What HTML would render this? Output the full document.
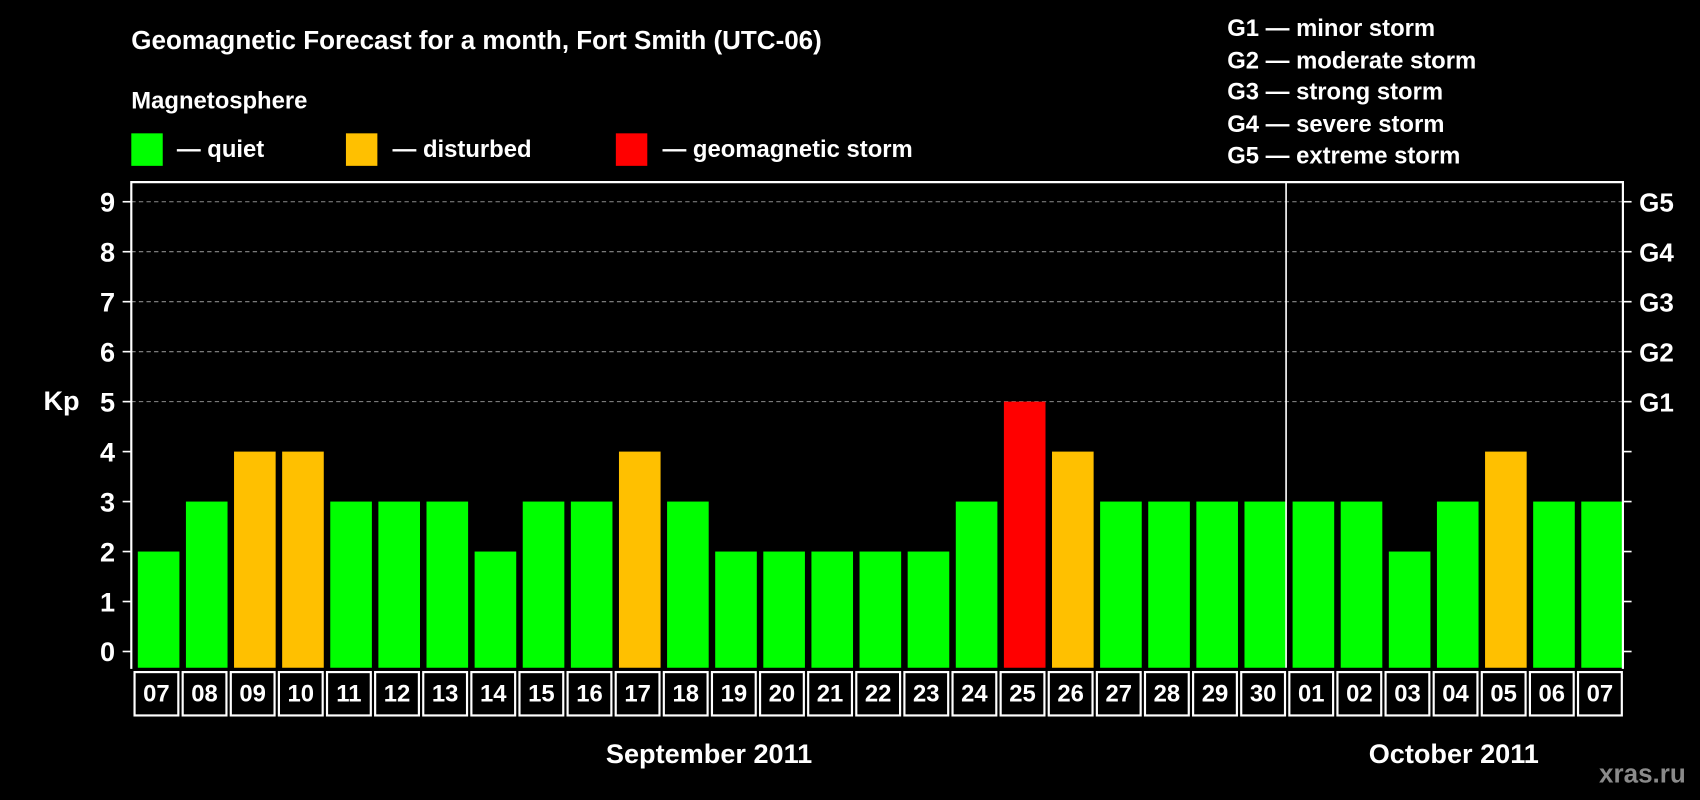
<!DOCTYPE html>
<html><head><meta charset="utf-8"><style>
html,body{margin:0;padding:0;background:#000;}
svg{display:block;font-family:"Liberation Sans",Arial,sans-serif;font-weight:bold;}
</style></head><body>
<svg id="chart" width="1700" height="800" viewBox="0 0 1568 738" xmlns="http://www.w3.org/2000/svg">
<rect width="1568" height="738" fill="#000"/>
<text x="121" y="45" fill="#fff" font-size="24">Geomagnetic Forecast for a month, Fort Smith (UTC-06)</text>
<text x="121" y="100" fill="#fff" font-size="22">Magnetosphere</text>
<rect x="121" y="123" width="29" height="30" fill="#00ff00"/>
<text x="163" y="145" fill="#fff" font-size="22">— quiet</text>
<rect x="319" y="123" width="29" height="30" fill="#ffc000"/>
<text x="362" y="145" fill="#fff" font-size="22">— disturbed</text>
<rect x="568" y="123" width="29" height="30" fill="#ff0000"/>
<text x="611" y="145" fill="#fff" font-size="22">— geomagnetic storm</text>
<g fill="#fff" font-size="22">
<text x="1132" y="33">G1 — minor storm</text>
<text x="1132" y="63">G2 — moderate storm</text>
<text x="1132" y="92">G3 — strong storm</text>
<text x="1132" y="122">G4 — severe storm</text>
<text x="1132" y="151">G5 — extreme storm</text>
</g>
<text x="40" y="378" fill="#fff" font-size="25">Kp</text>
<g id="grid"></g>
<g id="bars"></g>
<g id="axes"></g>
<text x="654" y="704" fill="#fff" font-size="25" text-anchor="middle">September 2011</text>
<text x="1341" y="704" fill="#fff" font-size="25" text-anchor="middle">October 2011</text>
<text x="1555" y="722" fill="#8a8a8a" font-size="24" text-anchor="end">xras.ru</text>
</svg>
<script>
const days = ["07","08","09","10","11","12","13","14","15","16","17","18","19","20","21","22","23","24","25","26","27","28","29","30","01","02","03","04","05","06","07"];
const kp = [2,3,4,4,3,3,3,2,3,3,4,3,2,2,2,2,2,3,5,4,3,3,3,3,3,2,3,4,3,3].length ? [2,3,4,4,3,3,3,2,3,3,4,3,2,2,2,2,2,3,5,4,3,3,3,3,3,3,2,3,4,3,3] : [];
const yTicks = [0,1,2,3,4,5,6,7,8,9];
const gLabels = ["G1","G2","G3","G4","G5"];
const gLevels = [5,6,7,8,9];
const monthBreak = 24;

const NS = "http://www.w3.org/2000/svg";
const X0 = 121, X1 = 1497, TOP = 168, BOT = 616;
const n = days.length, step = (X1 - X0) / n;
const y = v => 601 - v * 46.1;
const x = i => X0 + i * step;
function mk(tag, attrs, parent) {
  const e = document.createElementNS(NS, tag);
  for (const k in attrs) e.setAttribute(k, attrs[k]);
  parent.appendChild(e);
  return e;
}
const grid = document.getElementById('grid'), bars = document.getElementById('bars'), axes = document.getElementById('axes');
gLevels.forEach((v, i) => {
  const l = mk('line', {x1: X0, x2: X1, y1: y(v), y2: y(v), stroke: '#8c8c8c', 'stroke-width': 1, 'stroke-dasharray': '4,3'}, grid);
  
  
  const t = mk('text', {x: 1512, y: y(v) + 9, fill: '#fff', 'font-size': 24}, axes);
  t.textContent = gLabels[i];
  
  
});
kp.forEach((v, i) => {
  const c = v >= 5 ? '#ff0000' : (v >= 4 ? '#ffc000' : '#00ff00');
  const r = mk('rect', {x: x(i) + 6, y: y(v), width: step - 6, height: BOT - y(v), fill: c}, bars);
  
  
  const b = mk('rect', {x: x(i) + 3, y: 620, width: step - 4, height: 40, fill: 'none', stroke: '#fff', 'stroke-width': 2}, axes);
  
  
  const t = mk('text', {x: x(i) + step / 2 + 1, y: 647, fill: '#fff', 'font-size': 22, 'text-anchor': 'middle'}, axes);
  t.textContent = days[i];
  
  
});
yTicks.forEach(v => {
  mk('line', {x1: 113, x2: X0, y1: y(v), y2: y(v), stroke: '#fff', 'stroke-width': 1.5}, axes);
  mk('line', {x1: X1, x2: X1 + 8, y1: y(v), y2: y(v), stroke: '#fff', 'stroke-width': 1.5}, axes);
  const t = mk('text', {x: 106, y: y(v) + 9, fill: '#fff', 'font-size': 25, 'text-anchor': 'end'}, axes);
  t.textContent = v;
  
  
});
const f = mk('path', {d: `M${X0},${BOT+1} V${TOP} H${X1} V${BOT+1}`, fill: 'none', stroke: '#fff', 'stroke-width': 2}, axes);


const s = mk('line', {x1: x(monthBreak), x2: x(monthBreak), y1: TOP, y2: BOT, stroke: '#fff', 'stroke-width': 1.5}, axes);


</script>
</body></html>
